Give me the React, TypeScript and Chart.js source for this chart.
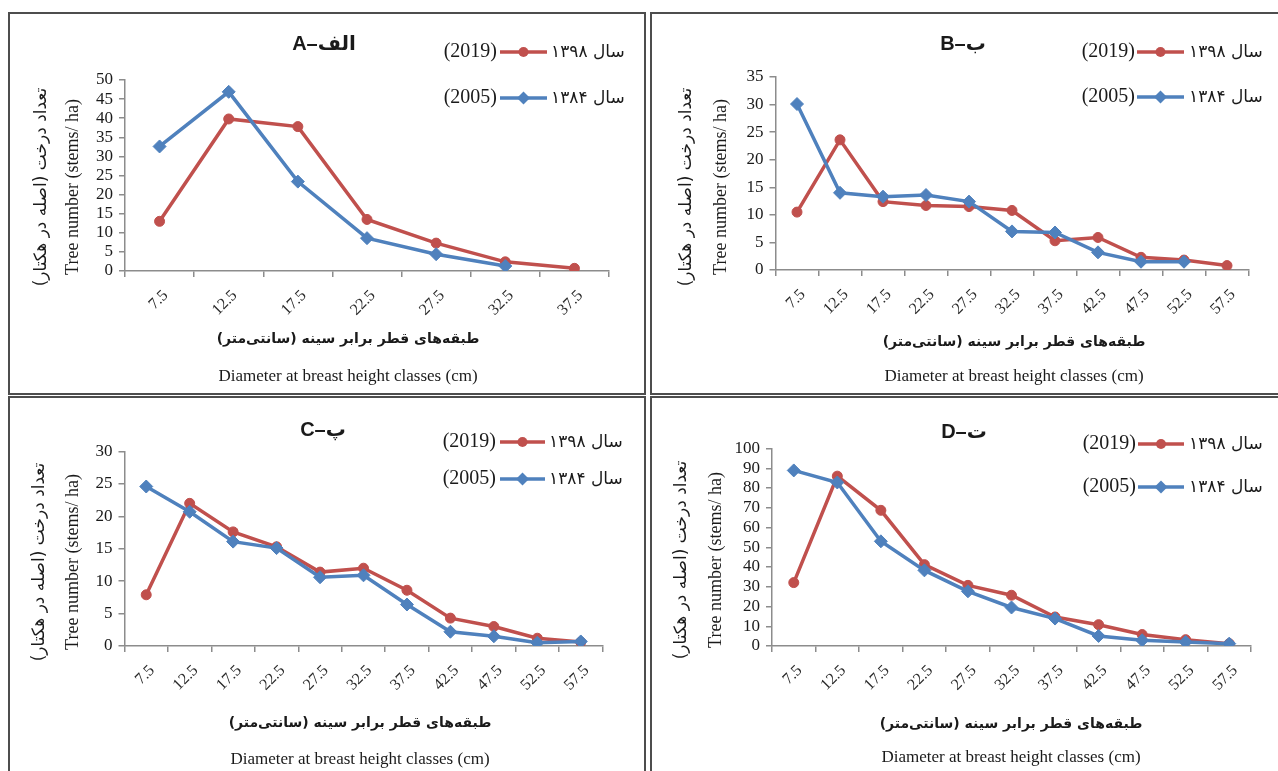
import React, { useEffect, useRef } from 'react';
import { Chart, registerables } from 'chart.js';

Chart.register(...registerables);

// ---------------- DATA ----------------
const classesA = ['7.5', '12.5', '17.5', '22.5', '27.5', '32.5', '37.5'];
const classesBCD = ['7.5', '12.5', '17.5', '22.5', '27.5', '32.5', '37.5', '42.5', '47.5', '52.5', '57.5'];

const siteA2019 = [13.0, 39.8, 37.8, 13.5, 7.3, 2.4, 0.7];
const siteA2005 = [32.6, 46.9, 23.4, 8.6, 4.4, 1.3, null];

const siteB2019 = [10.5, 23.6, 12.4, 11.7, 11.5, 10.8, 5.3, 5.9, 2.3, 1.8, 0.8];
const siteB2005 = [30.1, 14.0, 13.3, 13.6, 12.4, 7.0, 6.8, 3.2, 1.5, 1.5, null];

const siteC2019 = [7.9, 22.0, 17.6, 15.3, 11.4, 12.0, 8.6, 4.3, 3.0, 1.2, 0.6];
const siteC2005 = [24.6, 20.7, 16.1, 15.1, 10.6, 10.9, 6.4, 2.2, 1.5, 0.5, 0.7];

const siteD2019 = [32.1, 86.0, 68.7, 41.2, 30.7, 25.7, 14.7, 10.8, 5.8, 3.2, 1.2];
const siteD2005 = [88.9, 82.8, 53.0, 38.3, 27.7, 19.5, 13.9, 5.1, 2.9, 2.0, 1.2];

const yMaxes = [50, 35, 30, 100];
const ySteps = [5, 5, 5, 10];

const panelLetters = ['A', 'B', 'C', 'D'];
const panelFa = ['الف', 'ب', 'پ', 'ت'];
const legendYears = ['(2019)', '(2005)'];
const legendFa = ['سال ۱۳۹۸', 'سال ۱۳۸۴'];
const yTitleFa = 'تعداد درخت (اصله در هکتار)';
const yTitleEn = 'Tree number (stems/ ha)';
const xTitleFa = 'طبقه‌های قطر برابر سینه (سانتی‌متر)';
const xTitleEn = 'Diameter at breast height classes (cm)';

// ---------------- STYLE ----------------
const RED = '#c0504d';
const BLUE = '#4f81bd';
const AXIS = '#8c8c8c';
const TEXT = '#1a1a1a';
const SERIF = "'Liberation Serif', 'Times New Roman', serif";
const FA = "'DejaVu Sans', sans-serif";
const TITLE_FONT = "'Liberation Sans', 'DejaVu Sans', sans-serif";

type Layout = {
  box: { left: number; top: number; width: number; height: number };
  area: { left: number; right: number; top: number; bottom: number };
  title: { x: number; y: number };
  legend: { textRight: number; lineL: number; lineR: number; faLeft: number; y1: number; y2: number };
  yTitle: { faX: number; enX: number; cy: number };
  xTitle: { cx: number; faY: number; enY: number };
};

const layouts: Layout[] = [
  {
    box: { left: 8, top: 12, width: 638, height: 383 },
    area: { left: 125, right: 609, top: 80, bottom: 271 },
    title: { x: 324, y: 44 },
    legend: { textRight: 497, lineL: 500, lineR: 547, faLeft: 551, y1: 52, y2: 98 },
    yTitle: { faX: 42, enX: 73, cy: 187 },
    xTitle: { cx: 348, faY: 339, enY: 377 },
  },
  {
    box: { left: 650, top: 12, width: 630, height: 383 },
    area: { left: 775.5, right: 1248.5, top: 77, bottom: 270 },
    title: { x: 963, y: 44 },
    legend: { textRight: 1135, lineL: 1137, lineR: 1184, faLeft: 1189, y1: 52, y2: 97 },
    yTitle: { faX: 687, enX: 721, cy: 187 },
    xTitle: { cx: 1014, faY: 342, enY: 377 },
  },
  {
    box: { left: 8, top: 396, width: 638, height: 380 },
    area: { left: 124.5, right: 602.5, top: 451.5, bottom: 646 },
    title: { x: 323, y: 430 },
    legend: { textRight: 496, lineL: 500, lineR: 545, faLeft: 549, y1: 442, y2: 479 },
    yTitle: { faX: 40, enX: 73, cy: 562 },
    xTitle: { cx: 360, faY: 723, enY: 760 },
  },
  {
    box: { left: 650, top: 396, width: 630, height: 380 },
    area: { left: 772, right: 1251, top: 448.5, bottom: 646 },
    title: { x: 964, y: 432 },
    legend: { textRight: 1136, lineL: 1138, lineR: 1184, faLeft: 1189, y1: 444, y2: 487 },
    yTitle: { faX: 682, enX: 716, cy: 560 },
    xTitle: { cx: 1011, faY: 724, enY: 758 },
  },
];

const BORDER = 2;

function drawMarker(ctx: CanvasRenderingContext2D, kind: 'circle' | 'diamond', x: number, y: number, color: string) {
  ctx.save();
  ctx.fillStyle = color;
  ctx.beginPath();
  if (kind === 'circle') {
    ctx.arc(x, y, 5, 0, Math.PI * 2);
  } else {
    const r = 6.5;
    ctx.moveTo(x, y - r);
    ctx.lineTo(x + r, y);
    ctx.lineTo(x, y + r);
    ctx.lineTo(x - r, y);
    ctx.closePath();
  }
  ctx.fill();
  ctx.restore();
}

function Panel(props: {
  idx: number;
  labels: string[];
  s2019: (number | null)[];
  s2005: (number | null)[];
}) {
  const { idx, labels, s2019, s2005 } = props;
  const ref = useRef<HTMLCanvasElement | null>(null);
  const L = layouts[idx];
  const ox = L.box.left + BORDER;
  const oy = L.box.top + BORDER;
  const cw = L.box.width - 2 * BORDER;
  const ch = L.box.height - 2 * BORDER;

  useEffect(() => {
    const canvas = ref.current;
    if (!canvas) return;

    const textPlugin = {
      id: 'panelText' + idx,
      afterDraw(chart: any) {
        const ctx: CanvasRenderingContext2D = chart.ctx;
        ctx.save();
        ctx.fillStyle = TEXT;
        ctx.textBaseline = 'middle';

        // Panel title: Latin letter, dash, Persian letter drawn left-to-right
        ctx.font = `bold 20px ${TITLE_FONT}`;
        ctx.direction = 'ltr';
        const partA = panelLetters[idx] + '–';
        const wA = ctx.measureText(partA).width;
        ctx.direction = 'rtl';
        const wF = ctx.measureText(panelFa[idx]).width;
        const startX = L.title.x - ox - (wA + wF) / 2;
        ctx.direction = 'ltr';
        ctx.textAlign = 'left';
        ctx.fillText(partA, startX, L.title.y - oy);
        ctx.direction = 'rtl';
        ctx.textAlign = 'left';
        ctx.fillText(panelFa[idx], startX + wA, L.title.y - oy);

        // Legend
        const rows = [
          { y: L.legend.y1, color: RED, kind: 'circle' as const },
          { y: L.legend.y2, color: BLUE, kind: 'diamond' as const },
        ];
        rows.forEach((r, i) => {
          const y = r.y - oy;
          ctx.direction = 'ltr';
          ctx.font = `20px ${SERIF}`;
          ctx.textAlign = 'right';
          ctx.fillStyle = TEXT;
          ctx.fillText(legendYears[i], L.legend.textRight - ox, y);
          ctx.strokeStyle = r.color;
          ctx.lineWidth = 3.5;
          ctx.beginPath();
          ctx.moveTo(L.legend.lineL - ox, y);
          ctx.lineTo(L.legend.lineR - ox, y);
          ctx.stroke();
          drawMarker(ctx, r.kind, (L.legend.lineL + L.legend.lineR) / 2 - ox, y, r.color);
          ctx.direction = 'rtl';
          ctx.font = `17px ${FA}`;
          ctx.textAlign = 'left';
          ctx.fillStyle = TEXT;
          ctx.fillText(legendFa[i], L.legend.faLeft - ox, y + 1);
        });

        // Y axis titles (rotated)
        ctx.save();
        ctx.translate(L.yTitle.faX - ox, L.yTitle.cy - oy);
        ctx.rotate(-Math.PI / 2);
        ctx.direction = 'rtl';
        ctx.font = `17px ${FA}`;
        ctx.textAlign = 'center';
        ctx.fillText(yTitleFa, 0, 0);
        ctx.restore();

        ctx.save();
        ctx.translate(L.yTitle.enX - ox, L.yTitle.cy - oy);
        ctx.rotate(-Math.PI / 2);
        ctx.direction = 'ltr';
        ctx.font = `18px ${SERIF}`;
        ctx.textAlign = 'center';
        ctx.fillText(yTitleEn, 0, 0);
        ctx.restore();

        // X axis titles
        ctx.direction = 'rtl';
        ctx.font = `bold 14px ${FA}`;
        ctx.textAlign = 'center';
        ctx.fillText(xTitleFa, L.xTitle.cx - ox, L.xTitle.faY - oy);
        ctx.direction = 'ltr';
        ctx.font = `17px ${SERIF}`;
        ctx.fillText(xTitleEn, L.xTitle.cx - ox, L.xTitle.enY - oy);

        // X tick labels (rotated 45°)
        const xs = chart.scales.x;
        ctx.font = `16px ${SERIF}`;
        ctx.fillStyle = '#2a2a2a';
        labels.forEach((lab, i) => {
          const px = xs.getPixelForValue(i);
          ctx.save();
          ctx.translate(px + 6, xs.top + 22);
          ctx.rotate(-Math.PI / 4);
          ctx.textAlign = 'right';
          ctx.textBaseline = 'middle';
          ctx.fillText(lab, 0, 0);
          ctx.restore();
        });

        ctx.restore();
      },
    };

    const chart = new Chart(canvas, {
      type: 'line',
      data: {
        labels,
        datasets: [
          {
            label: legendYears[1],
            data: s2005,
            borderColor: BLUE,
            backgroundColor: BLUE,
            borderWidth: 3.5,
            pointStyle: 'rectRot',
            pointRadius: 6.5,
            pointBorderWidth: 1,
            tension: 0,
          },
          {
            label: legendYears[0],
            data: s2019,
            borderColor: RED,
            backgroundColor: RED,
            borderWidth: 3.5,
            pointStyle: 'circle',
            pointRadius: 5,
            pointBorderWidth: 1,
            tension: 0,
          },
        ],
      },
      options: {
        responsive: false,
        animation: false,
        events: [],
        layout: {
          autoPadding: false,
          padding: {
            left: 0,
            top: L.area.top - oy,
            right: cw - (L.area.right - ox),
            bottom: 0,
          },
        },
        plugins: {
          legend: { display: false },
          title: { display: false },
          tooltip: { enabled: false },
        },
        scales: {
          x: {
            type: 'category',
            offset: true,
            grid: {
              offset: true,
              drawOnChartArea: false,
              drawTicks: true,
              tickLength: 6,
              color: AXIS,
              lineWidth: 1.5,
            },
            border: { display: true, color: AXIS, width: 1.5 },
            ticks: {
              color: 'rgba(0,0,0,0)',
              minRotation: 45,
              maxRotation: 45,
              autoSkip: false,
              font: { family: SERIF, size: 16 },
            },
            afterFit: (s: any) => {
              s.height = ch - (L.area.bottom - oy);
            },
          },
          y: {
            min: 0,
            max: yMaxes[idx],
            grid: {
              drawOnChartArea: false,
              drawTicks: true,
              tickLength: 6,
              color: AXIS,
              lineWidth: 1.5,
            },
            border: { display: true, color: AXIS, width: 1.5 },
            ticks: {
              stepSize: ySteps[idx],
              autoSkip: false,
              color: TEXT,
              padding: 6,
              font: { family: SERIF, size: 17 },
            },
            afterFit: (s: any) => {
              s.width = L.area.left - ox;
            },
          },
        },
      } as any,
      plugins: [textPlugin],
    });

    return () => {
      chart.destroy();
    };
  }, []);

  return (
    <div
      style={{
        position: 'absolute',
        left: L.box.left,
        top: L.box.top,
        width: L.box.width,
        height: L.box.height,
        border: `${BORDER}px solid #4d4d4d`,
        boxSizing: 'border-box',
        background: '#fff',
      }}
    >
      <canvas ref={ref} width={cw} height={ch} style={{ display: 'block', width: cw, height: ch }} />
    </div>
  );
}

export default function App() {
  return (
    <div
      style={{
        position: 'fixed',
        left: 0,
        top: 0,
        width: 1278,
        height: 771,
        overflow: 'hidden',
        background: '#fff',
      }}
    >
      <Panel idx={0} labels={classesA} s2019={siteA2019} s2005={siteA2005} />
      <Panel idx={1} labels={classesBCD} s2019={siteB2019} s2005={siteB2005} />
      <Panel idx={2} labels={classesBCD} s2019={siteC2019} s2005={siteC2005} />
      <Panel idx={3} labels={classesBCD} s2019={siteD2019} s2005={siteD2005} />
    </div>
  );
}
